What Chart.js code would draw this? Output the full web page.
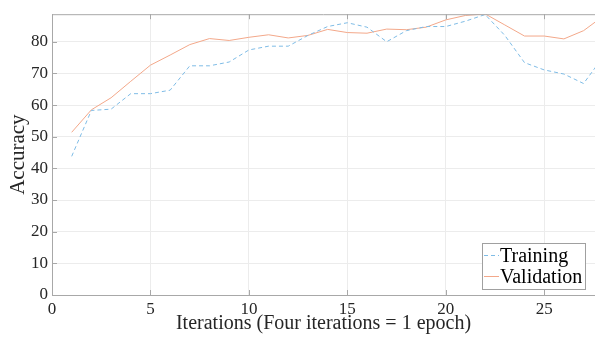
<!DOCTYPE html>
<html>
<head>
<meta charset="utf-8">
<script src="https://cdn.jsdelivr.net/npm/chart.js@4"></script>
<style>
html,body{margin:0;padding:0;background:#fff;}
#wrap{width:595px;height:337px;position:relative;}
</style>
</head>
<body>
<div id="wrap"><canvas id="c" width="595" height="337"></canvas></div>
<script>
const iterations = [1,2,3,4,5,6,7,8,9,10,11,12,13,14,15,16,17,18,19,20,21,22,23,24,25,26,27,28];
const training = [43.8,58.3,58.7,63.6,63.6,64.7,72.4,72.4,73.6,77.4,78.6,78.6,82.0,84.8,86.0,84.6,80.0,83.5,84.8,84.8,86.5,88.6,82.0,73.4,71.1,69.8,66.8,75.3];
const validation = [51.4,58.5,62.3,67.5,72.6,75.8,79.1,81.0,80.4,81.4,82.2,81.2,82.0,83.9,82.9,82.7,84.0,83.8,84.6,86.9,88.3,88.8,85.3,81.8,81.8,80.9,83.5,88.1];
const xTicks = [0,5,10,15,20,25];
const yTicks = [0,10,20,30,40,50,60,70,80];
const seriesNames = ['Training','Validation'];
const xTitle = 'Iterations (Four iterations = 1 epoch)';
const yTitle = 'Accuracy';

const FONT = "'Liberation Serif', 'DejaVu Serif', serif";
const AXIS = '#a8a8a8';
const TXT = '#262626';
const BLUE = '#7fbce6';
const ORANGE = '#f3a88a';

const frame = {
  id:'frame',
  afterDraw(chart){
    const {ctx, chartArea:a, scales:{x,y}} = chart;
    ctx.save();
    ctx.strokeStyle = AXIS; ctx.lineWidth = 1;
    ctx.beginPath();
    ctx.moveTo(a.left, a.top+0.5); ctx.lineTo(a.right, a.top+0.5);
    xTicks.forEach(v=>{
      const px = Math.round(x.getPixelForValue(v))+0.5;
      ctx.moveTo(px, a.top); ctx.lineTo(px, a.top+5);
      ctx.moveTo(px, a.bottom); ctx.lineTo(px, a.bottom-5);
    });
    yTicks.forEach(v=>{
      const py = Math.round(y.getPixelForValue(v))+0.5;
      ctx.moveTo(a.left, py); ctx.lineTo(a.left+5, py);
    });
    ctx.stroke();
    // legend
    const bx=482.5, by=243.5, bw=103, bh=46;
    ctx.fillStyle='#fff'; ctx.fillRect(bx,by,bw,bh);
    ctx.strokeStyle='#a0a0a0'; ctx.strokeRect(bx,by,bw,bh);
    const ds = chart.data.datasets;
    const rows=[255.5,276.5];
    ds.forEach((d,i)=>{
      ctx.strokeStyle=d.borderColor; ctx.lineWidth=1;
      ctx.setLineDash(d.borderDash||[]);
      ctx.beginPath(); ctx.moveTo(484,rows[i]); ctx.lineTo(499,rows[i]); ctx.stroke();
      ctx.setLineDash([]);
      ctx.fillStyle='#000'; ctx.font='20px '+FONT; ctx.textBaseline='middle'; ctx.textAlign='left';
      ctx.fillText(d.label, 500, rows[i]+1);
    });
    ctx.restore();
  }
};

new Chart(document.getElementById('c'), {
  type:'line',
  data:{
    datasets:[
      {label:seriesNames[0], data:iterations.map((v,i)=>({x:v,y:training[i]})), borderColor:BLUE, borderWidth:1, borderDash:[4,3], pointRadius:0, fill:false, tension:0},
      {label:seriesNames[1], data:iterations.map((v,i)=>({x:v,y:validation[i]})), borderColor:ORANGE, borderWidth:1, pointRadius:0, fill:false, tension:0}
    ]
  },
  options:{
    responsive:false, animation:false,
    layout:{padding:{top:10,right:0,left:0,bottom:0}},
    plugins:{legend:{display:false}, title:{display:false}, tooltip:{enabled:false}},
    scales:{
      x:{type:'linear', min:0, max:27.58,
        afterBuildTicks(s){ s.ticks = xTicks.map(v=>({value:v})); },
        afterFit(s){ s.height = 42; },
        grid:{color:'#ececec', drawTicks:false},
        border:{color:AXIS},
        ticks:{color:TXT, font:{family:FONT,size:17}, padding:4, maxRotation:0},
        title:{display:true, text:xTitle, color:TXT, font:{family:FONT,size:20}, padding:{top:0,bottom:1}}
      },
      y:{type:'linear', min:0, max:88.7,
        afterBuildTicks(s){ s.ticks = yTicks.map(v=>({value:v})); },
        afterFit(s){ s.width = 52; },
        grid:{color:'#ececec', drawTicks:false},
        border:{color:AXIS},
        ticks:{color:TXT, font:{family:FONT,size:17}, padding:4},
        title:{display:true, text:yTitle, color:TXT, font:{family:FONT,size:21}, padding:{top:6,bottom:0}}
      }
    }
  },
  plugins:[frame]
});
</script>
</body>
</html>
